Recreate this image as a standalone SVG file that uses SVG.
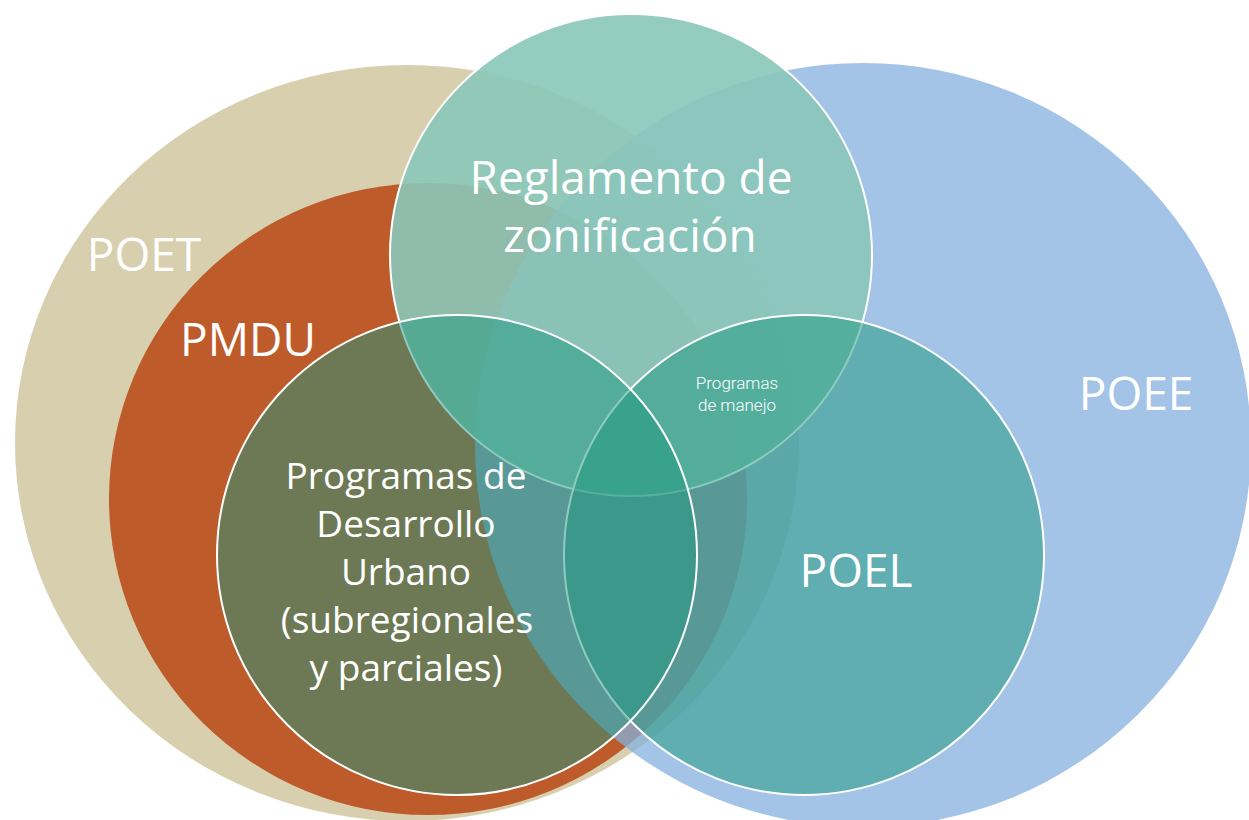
<svg xmlns="http://www.w3.org/2000/svg" width="1249" height="820" viewBox="0 0 1249 820">
  <style>
    .lbl { font-family: "Open Sans", "Noto Sans", "Liberation Sans", sans-serif; fill: #FFFFFF; text-anchor: middle; }
    .big { font-size: 46px; }
    .mid { font-size: 37px; }
    .small { font-family: Roboto, "Open Sans", "Liberation Sans", sans-serif; font-size: 17px; font-weight: 300; fill: #FFFFFF; text-anchor: middle; }
    .circ { stroke: #FFFFFF; stroke-width: 2; }
  </style>
  <rect width="1249" height="820" fill="#FFFFFF"/>
  <g id="poet">
    <ellipse cx="407" cy="443" rx="392" ry="378" fill="#D8CFAE"/>
    <text class="lbl big" x="144" y="271">POET</text>
  </g>
  <g id="pmdu">
    <ellipse cx="428" cy="499" rx="319" ry="316" fill="#BD5B2B"/>
    <text class="lbl big" x="248" y="356">PMDU</text>
  </g>
  <g id="poee">
    <ellipse cx="863" cy="445" rx="388" ry="382" fill="#84B0DD" fill-opacity="0.75"/>
    <text class="lbl big" x="1136" y="410">POEE</text>
  </g>
  <g id="reglamento">
    <circle class="circ" cx="631" cy="255" r="241" fill="rgb(138,199,185)" fill-opacity="0.9"/>
    <text class="lbl big" x="631" y="194">Reglamento de</text>
    <text class="lbl big" x="630" y="252">zonificación</text>
  </g>
  <g id="poel">
    <circle class="circ" cx="804" cy="555" r="240" fill="rgb(29,152,126)" fill-opacity="0.5"/>
    <text class="lbl big" x="856" y="587">POEL</text>
  </g>
  <g id="pdu">
    <circle class="circ" cx="457" cy="555" r="240" fill="rgb(29,152,126)" fill-opacity="0.5"/>
    <text class="lbl mid" x="406" y="489">Programas de</text>
    <text class="lbl mid" x="406" y="537">Desarrollo</text>
    <text class="lbl mid" x="406" y="585">Urbano</text>
    <text class="lbl mid" x="407" y="633">(subregionales</text>
    <text class="lbl mid" x="406" y="681">y parciales)</text>
  </g>
  <g id="programas-manejo">
    <text class="small" x="737" y="389">Programas</text>
    <text class="small" x="737" y="411">de manejo</text>
  </g>
  <g id="connectors"/>
</svg>
